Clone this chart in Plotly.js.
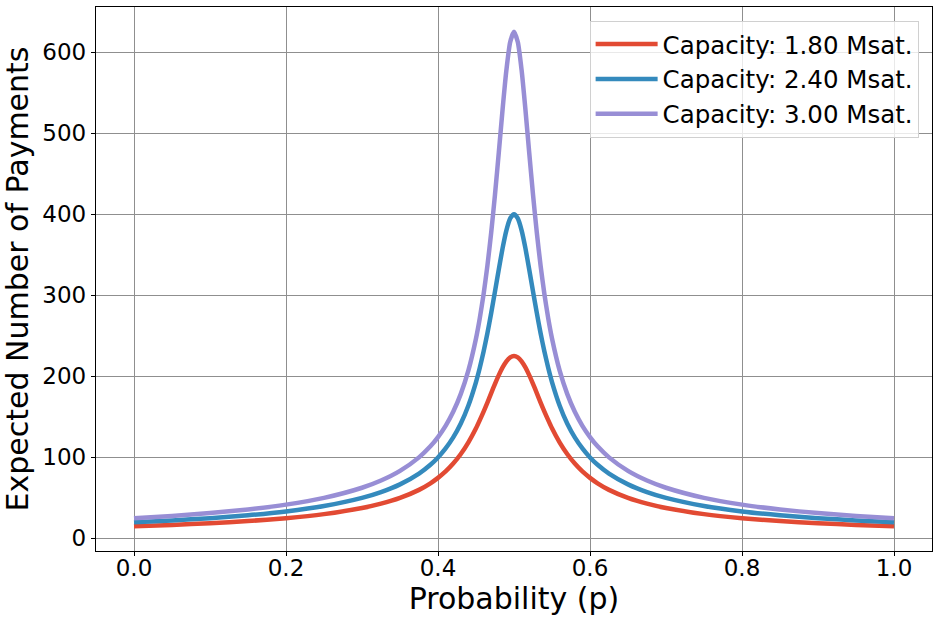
<!DOCTYPE html>
<html>
<head>
<meta charset="utf-8">
<script src="https://cdn.plot.ly/plotly-3.0.1.min.js"></script>
<style>
  html, body { margin: 0; padding: 0; background: #fff; }
  #chart { width: 939px; height: 622px; }
</style>
</head>
<body>
<div id="chart"></div>
<script>
// probability p
const probs = [0, 0.05, 0.1, 0.15, 0.2, 0.25, 0.3, 0.325, 0.35, 0.375, 0.39, 0.4, 0.41, 0.42, 0.43, 0.44, 0.45, 0.455, 0.46, 0.465, 0.47, 0.475, 0.48, 0.485, 0.49, 0.495, 0.5,
  0.505, 0.51, 0.515, 0.52, 0.525, 0.53, 0.535, 0.54, 0.545, 0.55, 0.56, 0.57, 0.58, 0.59, 0.6, 0.61, 0.625, 0.65, 0.675, 0.7, 0.75, 0.8, 0.85, 0.9, 0.95, 1.0]

// expected number of payments per capacity
const cap180 = [15, 16.67, 18.75, 21.43, 25, 30, 37.5, 42.86, 50, 59.9, 68.0, 74.7, 82.6, 92.3, 104.1, 118.5, 135.9, 145.9, 156.5, 167.6, 179.3, 190.7, 201.4, 210.9, 218.5, 223.4, 225,
  223.4, 218.5, 210.9, 201.4, 190.7, 179.3, 167.6, 156.5, 145.9, 135.9, 118.5, 104.1, 92.3, 82.6, 74.7, 68.0, 59.9, 50, 42.86, 37.5, 30, 25, 21.43, 18.75, 16.67, 15]
const cap240 = [20, 22.22, 25, 28.57, 33.33, 40, 50, 57.14, 66.67, 80.0, 90.9, 99.9, 111.0, 124.6, 141.8, 164.0, 192.9, 210.5, 230.5, 253.1, 278.1, 304.7, 332.0, 358.0, 380.0, 394.8, 400,
  394.8, 380.0, 358.0, 332.0, 304.7, 278.1, 253.1, 230.5, 210.5, 192.9, 164.0, 141.8, 124.6, 111.0, 99.9, 90.9, 80.0, 66.67, 57.14, 50, 40, 33.33, 28.57, 25, 22.22, 20]
const cap300 = [25, 27.78, 31.25, 35.71, 41.67, 50, 62.5, 71.43, 83.33, 100.0, 113.6, 125.0, 138.9, 156.2, 178.3, 207.3, 246.7, 271.8, 301.3, 336.3, 377.3, 424.2, 476.1, 529.3, 577.7, 612.3, 625,
  612.3, 577.7, 529.3, 476.1, 424.2, 377.3, 336.3, 301.3, 271.8, 246.7, 207.3, 178.3, 156.2, 138.9, 125.0, 113.6, 100.0, 83.33, 71.43, 62.5, 50, 41.67, 35.71, 31.25, 27.78, 25]

const seriesNames = ['Capacity: 1.80 Msat.', 'Capacity: 2.40 Msat.', 'Capacity: 3.00 Msat.']
const colors = ['#E24A33', '#348ABD', '#988ED5']
const yTicks = [0, 100, 200, 300, 400, 500, 600]
const xTicks = [0, 0.2, 0.4, 0.6, 0.8, 1.0]

const font = 'DejaVu Sans, sans-serif'

const traces = [cap180, cap240, cap300].map((ys, i) => ({
  x: probs,
  y: ys,
  type: 'scatter',
  mode: 'lines',
  name: seriesNames[i],
  line: { color: colors[i], width: 4.5, shape: 'spline', smoothing: 0.6 }
}))

const axisCommon = {
  showline: true,
  mirror: true,
  linecolor: '#000',
  linewidth: 1.2,
  ticks: 'outside',
  ticklen: 4,
  tickcolor: '#000',
  showgrid: true,
  gridcolor: '#8f8f8f',
  gridwidth: 1,
  zeroline: false,
  tickfont: { family: font, size: 23, color: '#000' }
}

const layout = {
  width: 939,
  height: 622,
  margin: { l: 96, r: 7, t: 7, b: 71 },
  paper_bgcolor: '#fff',
  plot_bgcolor: '#fff',
  font: { family: font, color: '#000' },
  xaxis: Object.assign({}, axisCommon, {
    range: [-0.05, 1.05],
    tickvals: xTicks,
    tickformat: '.1f',
    ticklabelstandoff: -8,
    title: { text: 'Probability (p)', font: { family: font, size: 30, color: '#000' }, standoff: 0 }
  }),
  yaxis: Object.assign({}, axisCommon, {
    range: [-15.5, 655.5],
    tickvals: yTicks,
    title: { text: 'Expected Number of Payments', font: { family: font, size: 30, color: '#000' }, standoff: 8 }
  }),
  legend: {
    x: 0.984,
    y: 0.975,
    xanchor: 'right',
    yanchor: 'top',
    bgcolor: 'rgba(255,255,255,0.8)',
    bordercolor: '#d0d0d0',
    borderwidth: 1,
    itemwidth: 62,
    font: { family: font, size: 24.5, color: '#000' }
  },
  showlegend: true
}

Plotly.newPlot('chart', traces, layout, { displayModeBar: false, staticPlot: true })
</script>
</body>
</html>
